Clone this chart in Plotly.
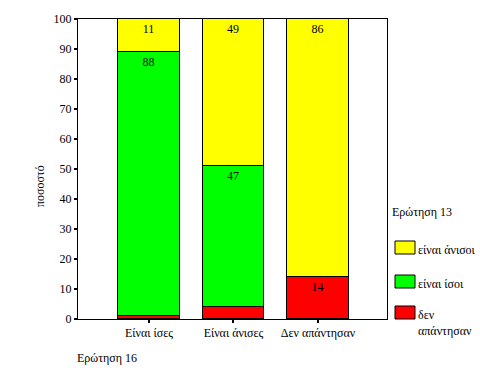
import plotly.graph_objects as go

categories = ["Είναι ίσες", "Είναι άνισες", "Δεν απάντησαν"]
series_names = ["δεν απάντησαν", "είναι ίσοι", "είναι άνισοι"]
red_vals = [1, 4, 14]
green_vals = [88, 47, 0]
yellow_vals = [11, 49, 86]
y_ticks = [0, 10, 20, 30, 40, 50, 60, 70, 80, 90, 100]
legend_labels = ["είναι άνισοι", "είναι ίσοι", "δεν<br>απάντησαν"]

colors = ["#FF0000", "#00FF00", "#FFFF00"]
FONT = "Liberation Serif"

W, H = 480, 384
L, R, T, B = 78, 387, 19, 319


def px(x):
    return (x - L) / (R - L)


def py(y):
    return 1 - (y - T) / (B - T)


def labels(vals):
    return [str(v) if v >= 10 else "" for v in vals]


fig = go.Figure()
for name, vals, col in zip(series_names, [red_vals, green_vals, yellow_vals], colors):
    fig.add_trace(go.Bar(
        x=categories, y=vals, name=name,
        marker=dict(color=col, line=dict(color="black", width=1)),
        width=0.73,
        text=labels(vals), textposition="inside", insidetextanchor="end",
        textangle=0, constraintext="none",
        textfont=dict(family=FONT, size=12, color="black"),
        hoverinfo="skip", showlegend=False,
    ))

fig.update_layout(
    width=W, height=H,
    margin=dict(l=L, r=W - R, t=T, b=H - B, pad=0),
    barmode="stack", bargap=0,
    plot_bgcolor="white", paper_bgcolor="white",
    font=dict(family=FONT, size=12, color="black"),
    showlegend=False,
    xaxis=dict(range=[-0.84, 2.817], showline=True, mirror=True, linecolor="black",
               linewidth=1, ticks="outside", ticklen=3, tickwidth=2, tickcolor="black",
               showgrid=False, tickfont=dict(family=FONT, size=12), fixedrange=True),
    yaxis=dict(range=[0, 100], tickvals=y_ticks, showline=True, mirror=True,
               linecolor="black", linewidth=1, ticks="outside", ticklen=3, tickwidth=2,
               tickcolor="black", showgrid=False, zeroline=False,
               tickfont=dict(family=FONT, size=12), fixedrange=True),
)

ann = []
ann.append(dict(text="Ερώτηση 16", x=px(75), y=py(358), xref="paper", yref="paper",
                xanchor="left", yanchor="middle", showarrow=False))
ann.append(dict(text="ποσοστό", x=px(40), y=py(186), xref="paper", yref="paper",
                xanchor="center", yanchor="middle", textangle=-90, showarrow=False))
ann.append(dict(text="Ερώτηση 13", x=px(390), y=py(212), xref="paper", yref="paper",
                xanchor="left", yanchor="middle", showarrow=False))

swatch_tops = [241, 275, 306]
legend_colors = ["#FFFF00", "#00FF00", "#FF0000"]
shapes = []
for top, col, lab in zip(swatch_tops, legend_colors, legend_labels):
    shapes.append(dict(type="rect", xref="paper", yref="paper",
                       x0=px(395), x1=px(415), y0=py(top), y1=py(top + 13),
                       fillcolor=col, line=dict(color="black", width=1)))
    ann.append(dict(text=lab, x=px(416), y=py(top), xref="paper", yref="paper",
                    xanchor="left", yanchor="top", align="left", showarrow=False))

fig.update_layout(annotations=ann, shapes=shapes)
fig.write_html("out.html")
